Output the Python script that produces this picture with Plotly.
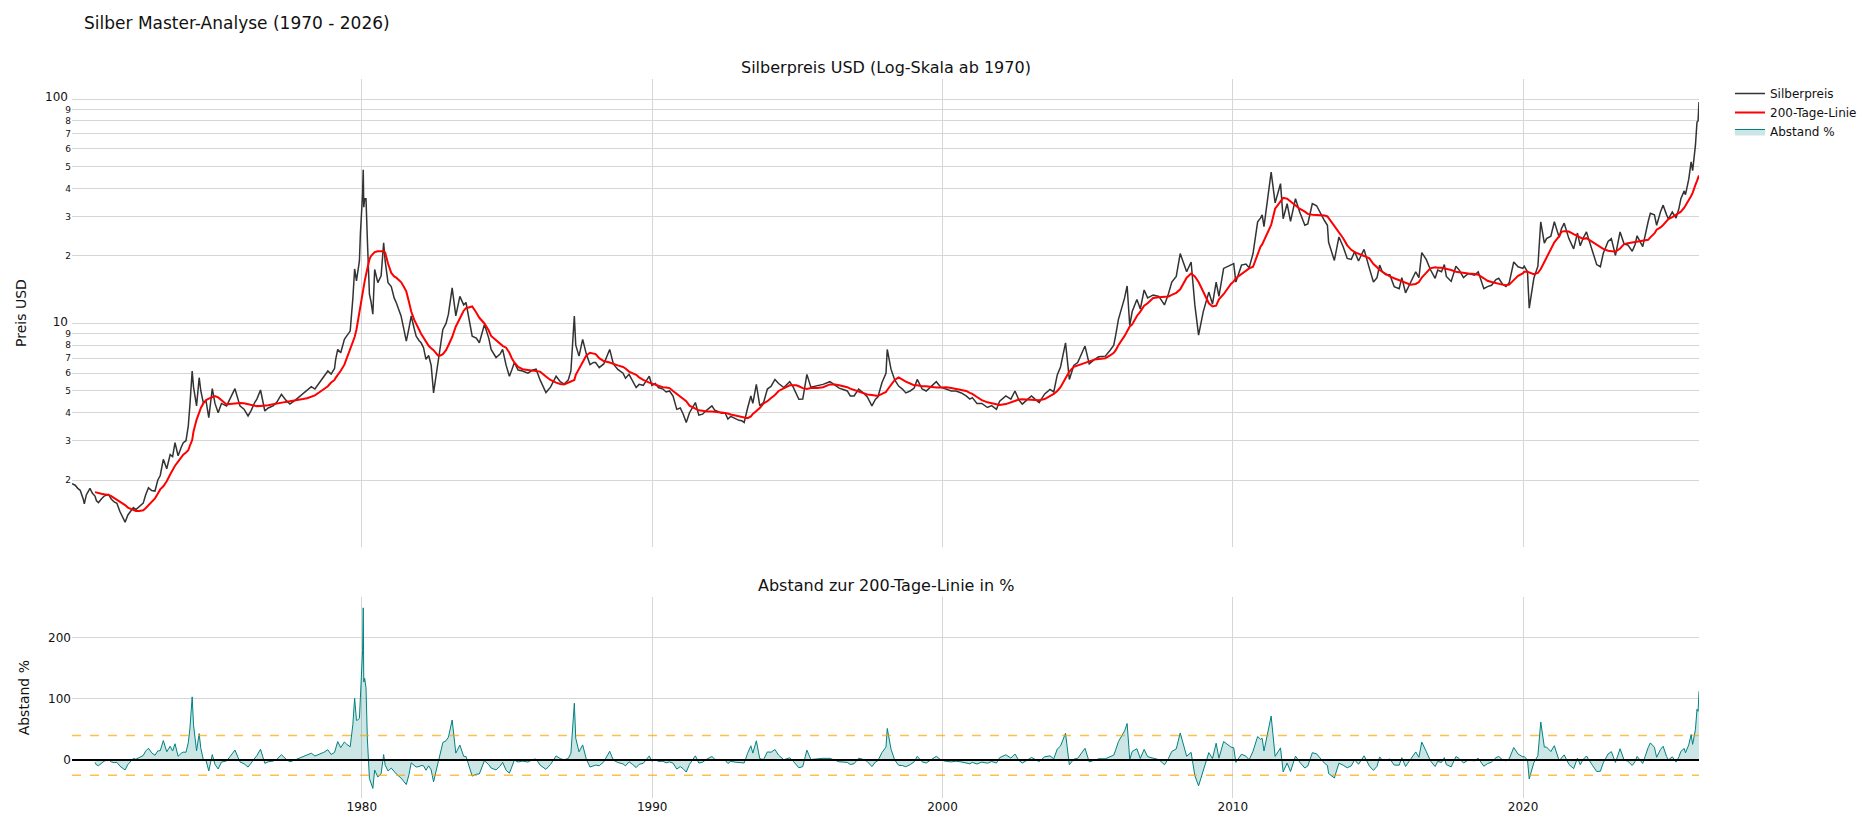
import plotly.graph_objects as go
from plotly.subplots import make_subplots

# ---------------- data ----------------
dates = [
    "1970-01-06", "1970-02-15", "1970-03-20", "1970-04-20", "1970-05-25", "1970-06-10", "1970-07-05", "1970-08-20", "1970-09-20", "1970-10-22", "1970-11-10", "1970-12-05",
    "1971-01-10", "1971-02-15", "1971-04-10", "1971-05-15", "1971-06-20", "1971-07-25", "1971-09-01", "1971-10-01", "1971-11-05", "1971-12-10",
    "1972-02-17", "1972-03-20", "1972-05-01", "1972-06-20", "1972-07-20", "1972-08-25", "1972-10-05", "1972-11-15", "1972-12-20",
    "1973-01-20", "1973-02-28", "1973-04-12", "1973-05-25", "1973-06-25", "1973-07-25", "1973-09-02", "1973-10-10", "1973-11-06", "1973-12-10",
    "1974-01-08", "1974-01-28", "1974-02-26", "1974-03-15", "1974-04-22", "1974-05-25", "1974-06-15", "1974-07-16", "1974-08-20", "1974-09-23", "1974-11-06", "1974-12-10",
    "1975-01-19", "1975-03-01", "1975-05-05", "1975-06-15", "1975-08-18", "1975-10-20", "1975-12-10",
    "1976-01-30", "1976-03-10", "1976-04-22", "1976-05-20", "1976-07-05", "1976-08-28", "1976-10-10", "1976-12-10",
    "1977-01-25", "1977-03-25", "1977-05-20", "1977-07-10", "1977-09-15", "1977-11-10", "1977-12-20",
    "1978-02-10", "1978-04-05", "1978-05-20", "1978-07-20", "1978-09-10", "1978-10-30", "1978-12-10",
    "1979-01-22", "1979-02-05", "1979-03-03", "1979-04-10", "1979-05-26", "1979-06-25", "1979-08-07", "1979-09-10", "1979-10-02", "1979-10-25", "1979-11-10", "1979-12-01", "1979-12-14", "1979-12-31",
    "1980-01-10", "1980-01-18", "1980-01-25", "1980-02-05", "1980-02-22", "1980-03-10", "1980-03-20", "1980-04-05", "1980-04-25", "1980-05-18", "1980-06-10", "1980-07-20", "1980-08-30", "1980-10-01", "1980-10-20", "1980-11-25",
    "1981-01-05", "1981-02-10", "1981-03-08", "1981-05-08", "1981-06-10", "1981-07-13", "1981-08-15", "1981-09-13", "1981-10-20", "1981-11-14", "1981-12-20",
    "1982-01-15", "1982-02-15", "1982-03-17", "1982-04-20", "1982-05-22", "1982-06-21", "1982-08-15", "1982-09-15", "1982-10-16", "1982-11-25", "1982-12-25",
    "1983-02-10", "1983-03-28", "1983-05-18", "1983-07-05", "1983-08-03", "1983-10-20", "1983-12-10",
    "1984-01-18", "1984-03-22", "1984-05-15", "1984-06-14", "1984-08-15", "1984-10-05", "1984-11-06", "1984-12-20",
    "1985-01-30", "1985-03-01", "1985-04-02", "1985-05-20", "1985-07-15", "1985-09-20", "1985-11-20",
    "1986-01-01", "1986-02-20", "1986-05-05", "1986-07-01", "1986-09-10", "1986-11-01", "1986-12-20",
    "1987-02-10", "1987-03-15", "1987-04-27", "1987-05-15", "1987-06-25", "1987-08-10", "1987-09-25", "1987-11-10", "1987-12-25",
    "1988-01-20", "1988-03-05", "1988-05-01", "1988-07-15", "1988-08-30", "1988-10-25", "1988-12-30",
    "1989-01-30", "1989-03-15", "1989-04-25", "1989-06-13", "1989-07-20", "1989-09-10", "1989-11-25", "1989-12-28",
    "1990-02-10", "1990-03-20", "1990-05-15", "1990-06-25", "1990-08-07", "1990-09-20", "1990-11-06", "1990-12-20",
    "1991-01-25", "1991-03-05", "1991-04-15", "1991-06-28", "1991-08-10", "1991-09-27", "1991-11-15",
    "1992-01-22", "1992-02-28", "1992-04-15", "1992-05-25", "1992-07-05", "1992-08-10", "1992-09-15", "1992-11-22", "1992-12-28",
    "1993-02-01", "1993-03-03", "1993-04-15", "1993-05-26", "1993-06-20", "1993-08-03", "1993-09-15", "1993-11-02", "1993-12-20",
    "1994-02-05", "1994-03-25", "1994-05-10", "1994-07-15", "1994-09-27", "1994-11-10", "1994-12-20",
    "1995-01-20", "1995-03-10", "1995-05-01", "1995-06-20", "1995-09-10", "1995-11-20",
    "1996-02-15", "1996-04-20", "1996-06-10", "1996-07-30", "1996-09-20", "1996-10-28", "1996-12-15",
    "1997-02-10", "1997-04-12", "1997-05-30", "1997-07-27", "1997-09-10", "1997-10-10", "1997-12-01",
    "1998-01-20", "1998-02-05", "1998-03-25", "1998-05-10", "1998-06-28", "1998-08-15", "1998-09-27", "1998-11-20",
    "1999-01-10", "1999-02-17", "1999-04-20", "1999-06-10", "1999-08-20", "1999-10-15", "1999-12-10",
    "2000-02-20", "2000-04-20", "2000-06-20", "2000-08-25", "2000-10-25", "2000-12-10",
    "2001-01-10", "2001-03-10", "2001-05-10", "2001-07-20", "2001-09-10", "2001-11-10", "2001-12-20",
    "2002-03-08", "2002-05-10", "2002-07-01", "2002-08-20", "2002-10-01", "2002-12-10",
    "2003-01-25", "2003-03-10", "2003-05-01", "2003-07-10", "2003-09-15", "2003-11-01", "2003-12-15",
    "2004-01-25", "2004-03-28", "2004-05-15", "2004-07-10", "2004-08-28", "2004-10-10", "2004-11-28",
    "2005-01-20", "2005-03-25", "2005-05-20", "2005-08-10", "2005-10-10", "2005-11-25", "2005-12-20",
    "2006-01-22", "2006-04-10", "2006-05-12", "2006-06-14", "2006-07-15", "2006-09-12", "2006-10-25", "2006-12-12",
    "2007-01-25", "2007-04-05", "2007-06-15", "2007-08-25", "2007-10-15", "2007-11-25",
    "2008-01-20", "2008-03-10", "2008-05-30", "2008-07-25", "2008-09-10", "2008-10-27", "2008-12-25",
    "2009-03-05", "2009-04-20", "2009-06-05", "2009-07-10", "2009-09-07", "2009-12-08",
    "2010-01-12", "2010-02-08", "2010-04-20", "2010-06-15", "2010-07-25", "2010-09-12", "2010-11-09", "2010-12-15",
    "2011-01-05", "2011-01-28", "2011-03-10", "2011-04-28", "2011-06-17", "2011-08-24", "2011-09-26", "2011-11-15", "2011-12-28",
    "2012-02-28", "2012-04-20", "2012-06-25", "2012-08-01", "2012-09-27", "2012-11-20",
    "2013-01-20", "2013-02-28", "2013-04-05", "2013-04-20", "2013-07-01", "2013-08-28", "2013-10-20", "2013-12-10",
    "2014-01-30", "2014-03-14", "2014-05-01", "2014-07-10", "2014-09-15", "2014-11-05", "2014-12-20",
    "2015-01-22", "2015-02-25", "2015-04-10", "2015-05-30", "2015-07-24", "2015-09-25", "2015-10-28", "2015-12-14",
    "2016-02-15", "2016-04-20", "2016-05-30", "2016-07-05", "2016-08-30", "2016-10-21", "2016-12-20",
    "2017-01-22", "2017-03-10", "2017-04-15", "2017-05-10", "2017-07-10", "2017-09-08", "2017-10-20", "2017-12-12",
    "2018-02-10", "2018-04-30", "2018-06-15", "2018-08-25", "2018-10-10", "2018-11-30",
    "2019-01-25", "2019-02-28", "2019-04-15", "2019-05-30", "2019-07-10", "2019-09-05", "2019-10-30", "2019-12-28",
    "2020-01-15", "2020-02-25", "2020-03-18", "2020-05-15", "2020-07-05", "2020-08-10", "2020-09-24", "2020-10-22", "2020-12-15",
    "2021-01-28", "2021-03-30", "2021-04-28", "2021-06-01", "2021-07-30", "2021-09-28", "2021-11-15", "2021-12-20",
    "2022-01-25", "2022-03-08", "2022-05-25", "2022-07-15", "2022-08-30", "2022-10-05", "2022-12-05",
    "2023-01-15", "2023-03-08", "2023-05-05", "2023-06-25", "2023-08-10", "2023-10-05", "2023-11-10", "2023-12-05",
    "2024-02-14", "2024-04-22", "2024-05-20", "2024-07-10", "2024-08-07", "2024-09-25", "2024-10-28", "2024-12-10",
    "2025-01-02", "2025-02-20", "2025-04-08", "2025-05-15", "2025-06-08", "2025-07-20", "2025-08-05", "2025-09-15", "2025-10-15", "2025-11-03", "2025-11-28", "2025-12-08", "2025-12-28",
    "2026-01-10", "2026-01-22",
]

silberpreis = [
    1.93, 1.90, 1.84, 1.80, 1.66, 1.57, 1.72, 1.84, 1.75, 1.70, 1.62, 1.59,
    1.65, 1.70, 1.73, 1.65, 1.60, 1.58, 1.45, 1.37, 1.30, 1.40,
    1.51, 1.48, 1.53, 1.58, 1.72, 1.85, 1.80, 1.79, 2.00,
    2.10, 2.48, 2.25, 2.60, 2.55, 2.94, 2.57, 2.80, 2.94, 3.00,
    3.49, 4.30, 6.14, 5.20, 4.29, 5.73, 5.00, 4.44, 4.50, 3.80, 5.12, 4.40,
    4.00, 4.40, 4.29, 4.60, 5.12, 4.29, 4.15,
    3.87, 4.10, 4.44, 4.60, 5.05, 4.07, 4.20, 4.29,
    4.45, 4.83, 4.55, 4.37, 4.55, 4.72, 4.85,
    5.05, 5.23, 5.10, 5.45, 5.75, 6.14, 5.95,
    6.30, 6.90, 7.66, 7.40, 8.49, 8.80, 9.25, 13.0, 17.5, 15.5, 16.9, 19.0, 25.4, 32.0,
    38.0, 48.5, 33.0, 36.0, 36.0, 23.7, 19.3, 13.5, 12.5, 11.0, 17.4, 15.2, 16.3, 22.9, 19.0, 15.2,
    14.6, 13.0, 12.4, 10.8, 9.5, 8.34, 9.5, 10.8, 9.5, 8.78, 8.4,
    8.2, 7.8, 6.92, 7.2, 6.5, 4.9, 6.69, 8.0, 9.4, 10.0, 11.0,
    14.4, 10.8, 13.2, 12.1, 12.4, 8.78, 8.6,
    8.2, 9.9, 8.6, 7.66, 7.05, 7.3, 7.66, 6.5,
    5.82, 6.2, 6.69, 6.2, 6.14, 6.0, 6.2,
    6.25, 5.6, 4.92, 5.2, 5.82, 5.5, 5.37,
    5.6, 6.14, 10.8, 8.0, 7.15, 8.49, 7.3, 6.56, 6.7,
    6.7, 6.35, 6.6, 7.66, 6.6, 6.24, 6.0,
    5.7, 5.93, 5.6, 5.18, 5.35, 5.3, 5.82, 5.3,
    5.4, 5.18, 5.1, 4.95, 5.0, 4.75, 4.14, 4.2,
    3.95, 3.62, 4.0, 4.44, 3.9, 3.94, 4.1,
    4.29, 4.1, 4.05, 3.98, 4.0, 3.75, 3.85, 3.74, 3.7,
    3.68, 3.62, 4.2, 4.75, 4.4, 5.35, 4.3, 4.44, 5.1,
    5.25, 5.63, 5.4, 5.18, 5.5, 5.2, 4.85,
    4.59, 4.6, 5.93, 5.2, 5.26, 5.35,
    5.5, 5.3, 5.15, 5.08, 5.0, 4.75, 4.75,
    5.1, 4.9, 4.7, 4.29, 4.6, 4.7, 5.45,
    6.0, 7.66, 6.24, 5.6, 5.26, 5.1, 4.9, 5.0,
    5.15, 5.63, 5.1, 5.0, 5.3, 5.5, 5.2,
    5.08, 5.0, 5.0, 4.9, 4.75, 4.6,
    4.67, 4.4, 4.4, 4.22, 4.3, 4.14, 4.5,
    4.75, 4.6, 5.0, 4.55, 4.37, 4.6,
    4.75, 4.6, 4.44, 4.85, 5.08, 4.95, 5.9,
    6.4, 8.2, 5.63, 6.5, 6.69, 7.2, 7.93,
    6.6, 6.9, 7.1, 7.15, 7.6, 8.0, 8.9,
    10.4, 13.0, 14.7, 9.8, 11.3, 12.8, 11.6, 14.1,
    13.0, 13.4, 13.2, 12.1, 13.6, 15.3,
    16.2, 20.5, 17.0, 18.8, 12.1, 8.87, 11.3,
    13.8, 12.2, 15.3, 13.2, 17.6, 18.2,
    18.5, 15.3, 18.2, 18.4, 17.7, 20.5, 28.4, 29.5,
    30.5, 27.0, 35.5, 47.3, 34.5, 42.0, 29.3, 34.2, 28.5,
    36.0, 31.5, 27.4, 27.8, 34.2, 33.5,
    30.3, 28.7, 27.4, 23.0, 19.1, 24.3, 22.0, 19.5,
    19.3, 20.9, 19.0, 21.4, 17.6, 15.3, 16.0,
    18.2, 17.0, 16.5, 16.5, 14.6, 14.3, 16.0, 13.7,
    15.2, 17.0, 16.0, 20.7, 19.3, 17.4, 15.9,
    17.3, 17.0, 18.3, 16.2, 15.4, 18.0, 17.3, 16.0,
    16.7, 16.4, 17.0, 14.3, 14.6, 14.8,
    15.7, 15.9, 15.0, 14.6, 15.2, 18.8, 17.9, 17.6,
    18.0, 17.0, 11.7, 15.9, 18.0, 28.4, 22.8, 23.9, 24.5,
    28.4, 24.2, 26.5, 28.0, 23.9, 21.5, 25.3, 22.2,
    24.0, 25.6, 20.9, 18.3, 17.9, 20.5, 23.2,
    23.9, 20.1, 25.6, 22.6, 22.4, 21.0, 22.5, 24.6,
    22.0, 28.4, 31.0, 30.5, 27.4, 31.5, 33.7, 30.5,
    29.3, 31.4, 29.5, 32.6, 36.0, 39.0, 37.5, 44.0, 52.5, 48.0, 56.0, 62.2, 79.1,
    80.0, 97.1,
]

linie_200 = [
    None, None, None, None, None, None, None, None, None, 1.77, 1.76, 1.75,
    1.74, 1.73, 1.72, 1.70, 1.67, 1.64, 1.61, 1.58, 1.55, 1.51,
    1.47, 1.46, 1.46, 1.47, 1.50, 1.55, 1.61, 1.66, 1.74,
    1.82, 1.88, 1.98, 2.12, 2.22, 2.32, 2.42, 2.52, 2.60, 2.66,
    2.72, 2.85, 3.02, 3.30, 3.72, 4.00, 4.20, 4.40, 4.55, 4.62, 4.70, 4.74,
    4.68, 4.55, 4.35, 4.37, 4.40, 4.42, 4.41,
    4.37, 4.32, 4.29, 4.28, 4.29, 4.30, 4.32, 4.36,
    4.40, 4.44, 4.47, 4.50, 4.53, 4.56, 4.60,
    4.64, 4.70, 4.78, 4.95, 5.10, 5.25, 5.45,
    5.60, 5.72, 5.88, 6.15, 6.55, 7.00, 7.60, 8.20, 8.70, 9.40, 10.2, 11.3, 12.2, 13.1,
    13.6, 13.9, 14.5, 15.4, 16.5, 17.6, 18.4, 19.3, 20.0, 20.5, 20.8, 21.0, 21.0, 21.0, 20.7, 18.5,
    16.8, 16.2, 16.0, 15.3, 14.6, 13.9, 12.5, 11.3, 10.4, 9.9, 9.4,
    9.0, 8.6, 8.3, 7.95, 7.75, 7.6, 7.2, 7.2, 7.3, 7.6, 8.0,
    8.7, 9.7, 10.6, 11.4, 11.7, 11.9, 11.2,
    10.6, 10.0, 9.3, 8.8, 8.4, 8.1, 7.95, 7.8,
    7.4, 7.0, 6.7, 6.4, 6.25, 6.2, 6.15,
    6.14, 6.1, 5.8, 5.6, 5.45, 5.37, 5.35,
    5.45, 5.52, 5.6, 5.9, 6.3, 6.8, 7.2, 7.4, 7.35,
    7.3, 7.0, 6.8, 6.7, 6.6, 6.5, 6.4,
    6.3, 6.1, 6.0, 5.9, 5.75, 5.6, 5.45, 5.4,
    5.35, 5.3, 5.2, 5.18, 5.15, 5.0, 4.85, 4.7,
    4.6, 4.5, 4.3, 4.15, 4.1, 4.08, 4.05,
    4.05, 4.05, 4.02, 4.01, 4.0, 3.97, 3.93, 3.88, 3.85,
    3.82, 3.8, 3.78, 3.85, 3.95, 4.07, 4.2, 4.4, 4.5,
    4.65, 4.8, 5.0, 5.15, 5.3, 5.3, 5.3,
    5.25, 5.15, 5.1, 5.15, 5.15, 5.2,
    5.35, 5.35, 5.3, 5.25, 5.2, 5.12, 5.05,
    4.95, 4.85, 4.82, 4.8, 4.75, 4.75, 4.85,
    4.95, 5.05, 5.3, 5.6, 5.75, 5.6, 5.5, 5.4,
    5.3, 5.3, 5.25, 5.25, 5.2, 5.18, 5.18,
    5.2, 5.15, 5.1, 5.05, 5.0, 4.9,
    4.85, 4.7, 4.55, 4.45, 4.4, 4.35, 4.33,
    4.37, 4.45, 4.55, 4.58, 4.59, 4.58,
    4.55, 4.55, 4.55, 4.6, 4.75, 4.85, 5.0,
    5.2, 5.7, 6.1, 6.4, 6.5, 6.55, 6.65,
    6.8, 6.9, 6.95, 7.0, 7.2, 7.4, 7.6,
    8.0, 8.8, 9.2, 9.7, 9.9, 10.8, 11.3, 12.0,
    12.3, 13.0, 13.1, 13.1, 13.2, 13.4,
    13.7, 14.2, 16.0, 16.7, 16.2, 15.3, 13.8,
    12.3, 11.9, 12.0, 12.8, 13.5, 15.0,
    15.4, 15.9, 16.6, 17.3, 17.6, 17.9, 20.5, 22.0,
    22.5, 23.5, 25.5, 27.5, 32.5, 35.0, 36.3, 36.0, 35.0,
    33.8, 32.5, 31.5, 30.8, 30.5, 30.4,
    30.2, 30.3, 30.0, 29.5, 27.0, 25.6, 24.0, 22.3,
    21.3, 20.8, 20.4, 20.0, 19.5, 18.4, 17.8,
    17.3, 17.0, 16.6, 16.2, 15.9, 15.6, 15.4, 15.3,
    14.9, 15.0, 15.3, 16.0, 16.9, 17.6, 17.8,
    17.7, 17.7, 17.6, 17.5, 17.3, 17.0, 16.9, 16.8,
    16.7, 16.6, 16.5, 15.9, 15.5, 15.3,
    15.1, 15.0, 14.9, 14.8, 14.9, 15.6, 16.3, 16.7,
    17.0, 17.0, 16.9, 16.6, 16.8, 17.5, 18.8, 19.7, 21.5,
    23.0, 24.5, 25.6, 25.8, 25.7, 25.0, 24.5, 24.0,
    23.8, 24.0, 23.0, 22.5, 21.9, 21.5, 21.1,
    21.0, 20.9, 21.6, 22.6, 22.8, 23.0, 23.1, 23.2,
    23.3, 23.6, 24.2, 25.2, 26.2, 26.8, 27.5, 28.8,
    29.2, 29.8, 30.5, 30.9, 31.5, 32.8, 33.5, 35.2, 37.0, 38.2, 40.0, 41.5, 43.2,
    44.5, 45.7,
]

assert len(dates) == len(silberpreis) == len(linie_200), (len(dates), len(silberpreis), len(linie_200))

# Abstand zur 200-Tage-Linie in %
abstand = [None if m is None else (p / m - 1.0) * 100.0 for p, m in zip(silberpreis, linie_200)]

obere_schwelle = 40
untere_schwelle = -25

# ---------------- figure ----------------
fig = make_subplots(
    rows=2, cols=1, shared_xaxes=True,
    vertical_spacing=0.07, row_heights=[0.7, 0.3],
    subplot_titles=("Silberpreis USD (Log-Skala ab 1970)", "Abstand zur 200-Tage-Linie in %"),
)

fig.add_trace(go.Scatter(x=dates, y=silberpreis, name="Silberpreis", mode="lines",
                         line=dict(color="#333333", width=1.5)), row=1, col=1)
fig.add_trace(go.Scatter(x=dates, y=linie_200, name="200-Tage-Linie", mode="lines",
                         line=dict(color="red", width=2)), row=1, col=1)
fig.add_trace(go.Scatter(x=dates, y=abstand, name="Abstand %", mode="lines", fill="tozeroy",
                         fillcolor="rgba(0,128,128,0.2)",
                         line=dict(color="teal", width=1)), row=2, col=1)

fig.add_hline(y=0, line_color="black", line_width=2, row=2, col=1)
fig.add_hline(y=obere_schwelle, line_dash="dash", line_color="orange", line_width=1.5, opacity=0.7, row=2, col=1)
fig.add_hline(y=untere_schwelle, line_dash="dash", line_color="orange", line_width=1.5, opacity=0.7, row=2, col=1)

grid = "#d6d6d6"
fig.update_layout(
    template="plotly_white",
    font=dict(family="Verdana, 'DejaVu Sans', sans-serif", color="#111111"),
    title=dict(text="Silber Master-Analyse (1970 - 2026)", x=76 / 1856, xanchor="left",
               y=1 - 15 / 823, yanchor="middle"),
    margin=dict(l=60, r=165, t=71, b=33),
    showlegend=True,
    legend=dict(xref="container", yref="container", x=1722 / 1856, xanchor="left",
                y=1 - 71 / 823, yanchor="top"),
)
fig.update_xaxes(showgrid=True, gridcolor=grid, zeroline=False)
fig.update_yaxes(type="log", range=[0.003, 2.09], dtick="D1", gridcolor=grid,
                 title_text="Preis USD", row=1, col=1)
fig.update_yaxes(range=[-62, 266], gridcolor=grid, zeroline=False,
                 title_text="Abstand %", row=2, col=1)

fig.write_html("out.html")
